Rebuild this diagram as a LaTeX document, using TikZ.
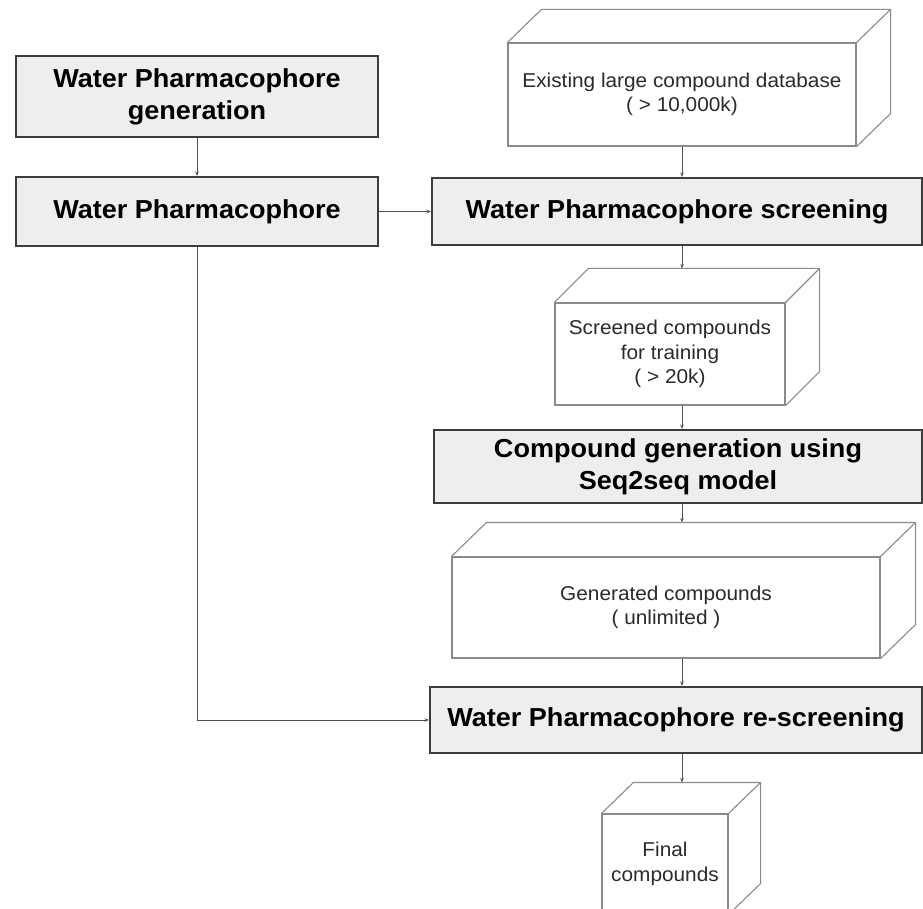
\documentclass[tikz,border=0pt]{standalone}
\usepackage{fontspec}
\setmainfont{Liberation Sans}[FakeStretch=1.04]
\usetikzlibrary{arrows.meta}
\definecolor{boxfill}{HTML}{EEEEEE}
\definecolor{boxline}{HTML}{3C3C3C}
\definecolor{cubeline}{HTML}{8A8A8A}
\definecolor{arrline}{HTML}{505050}
\definecolor{cubetext}{HTML}{2A2A2A}
\tikzset{
  procbox/.style={draw=boxline, line width=2pt, fill=boxfill, inner sep=0pt,
    align=center, text=black,
    font=\fontsize{26}{32}\selectfont\bfseries},
  cubefront/.style={draw=cubeline, line width=1.1pt, fill=white, inner sep=0pt,
    align=center, text=cubetext,
    font=\fontsize{20}{24.5}\selectfont},
  cubeedge/.style={draw=cubeline, line width=1.1pt, line join=round},
  arr/.style={draw=arrline, line width=0.8pt, -{Stealth[length=4.5pt,width=3.5pt]}}
}
\newcommand{\cubesides}[3]{%
  \draw[cubeedge] (#1.north west) -- ++(#2,-#3) -- ([shift={(#2,-#3)}]#1.north east)
    -- ([shift={(#2,-#3)}]#1.south east) -- (#1.south east);
  \draw[cubeedge] (#1.north east) -- ++(#2,-#3);
}
\begin{document}
\begin{tikzpicture}[x=1pt,y=-1pt]
\useasboundingbox (0,0) rectangle (923,909);
\coordinate (col) at (682,0);

% process boxes
\node[procbox, minimum width=362pt, minimum height=81pt] (gen) at (197,96.5)
  {Water Pharmacophore\\generation};
\node[procbox, minimum width=362pt, minimum height=69pt] (wp) at (197,211.5)
  {Water Pharmacophore};
\node[procbox, minimum width=490pt, minimum height=67pt] (scr) at (677,211.5)
  {Water Pharmacophore screening};
\node[procbox, minimum width=488pt, minimum height=73pt] (cg) at (678,466.5)
  {Compound generation using\\Seq2seq model};
\node[procbox, minimum width=492pt, minimum height=66pt] (rs) at (676,720)
  {Water Pharmacophore re-screening};

% cubes
\node[cubefront, minimum width=348pt, minimum height=103pt] (c1) at (682,94.5)
  {Existing large compound database\\( > 10,000k)};
\cubesides{c1}{34}{33}
\node[cubefront, minimum width=230pt, minimum height=102pt] (c2) at (670,354)
  {Screened compounds\\for training\\( > 20k)};
\cubesides{c2}{34}{34}
\coordinate (c2back) at ([shift={(34,-34)}]c2.north west);
\node[cubefront, minimum width=428pt, minimum height=101pt] (c3) at (666,607.5)
  {Generated compounds\\( unlimited )};
\cubesides{c3}{35}{34}
\coordinate (c3back) at ([shift={(35,-34)}]c3.north west);
\node[cubefront, minimum width=126pt, minimum height=100pt] (c4) at (665,864)
  {Final\\compounds};
\cubesides{c4}{32}{31}
\coordinate (c4back) at ([shift={(32,-31)}]c4.north west);

% connectors
\draw[arr] (gen) -- (wp);
\draw[arr] (wp) -- (scr);
\draw[arr] (c1.south -| col) -- (scr.north -| col);
\draw[arr] (scr.south -| col) -- (c2back -| col);
\draw[arr] (c2.south -| col) -- (cg.north -| col);
\draw[arr] (cg.south -| col) -- (c3back -| col);
\draw[arr] (c3.south -| col) -- (rs.north -| col);
\draw[arr] (rs.south -| col) -- (c4back -| col);
\draw[arr] (wp.south) |- (rs.west);
\end{tikzpicture}
\end{document}
